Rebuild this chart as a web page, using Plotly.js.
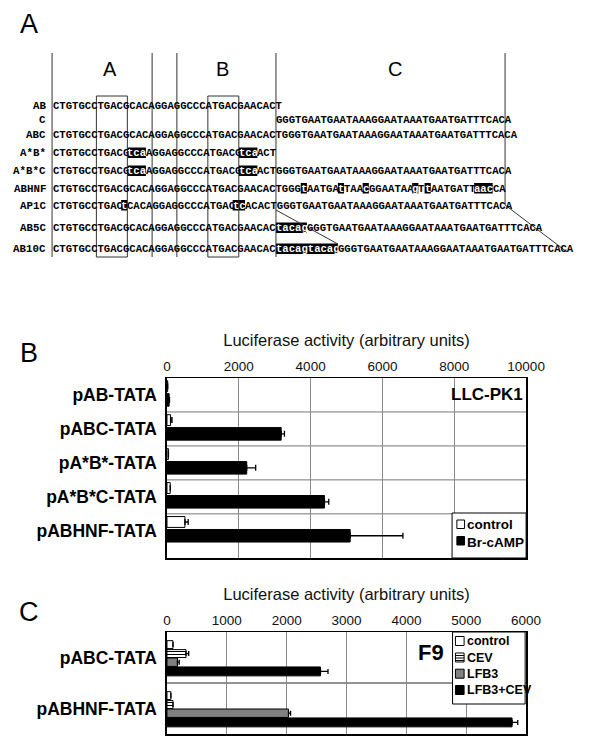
<!DOCTYPE html>
<html>
<head>
<meta charset="utf-8">
<script src="https://cdn.plot.ly/plotly-3.0.1.min.js"></script>
<style>
  html, body { margin: 0; padding: 0; background: #fff; }
  #chart { width: 598px; height: 746px; }
</style>
</head>
<body>
<div id="chart"></div>
<script>
// --- Panel A: sequences ([...] = mutated / inserted bases, shown white on black) ---
const seqNames = ["AB", "C", "ABC", "A*B*", "A*B*C", "ABHNF", "AP1C", "AB5C", "AB10C"];
const seqOffsets = [0, 36, 0, 0, 0, 0, 0, 0, 0];
const seqRows = [
  "CTGTGCCTGACGCACAGGAGGCCCATGACGAACACT",
  "GGGTGAATGAATAAAGGAATAAATGAATGATTTCACA",
  "CTGTGCCTGACGCACAGGAGGCCCATGACGAACACTGGGTGAATGAATAAAGGAATAAATGAATGATTTCACA",
  "CTGTGCCTGACG[tca]AGGAGGCCCATGACG[tca]ACT",
  "CTGTGCCTGACG[tca]AGGAGGCCCATGACG[tca]ACTGGGTGAATGAATAAAGGAATAAATGAATGATTTCACA",
  "CTGTGCCTGACGCACAGGAGGCCCATGACGAACACTGGGT[t]AATGA[t]TAA[c]GGAATAA[g]T[t]AATGATT[aac]CA",
  "CTGTGCCTGAC[t]CACAGGAGGCCCATGAC[tc]ACACTGGGTGAATGAATAAAGGAATAAATGAATGATTTCACA",
  "CTGTGCCTGACGCACAGGAGGCCCATGACGAACACT[tacag]GGGTGAATGAATAAAGGAATAAATGAATGATTTCACA",
  "CTGTGCCTGACGCACAGGAGGCCCATGACGAACACT[tacagtacag]GGGTGAATGAATAAAGGAATAAATGAATGATTTCACA",
];
const regionNames = ["A", "B", "C"];

// --- Panel B: LLC-PK1 ---
const bConstructs = ["pAB-TATA", "pABC-TATA", "pA*B*-TATA", "pA*B*C-TATA", "pABHNF-TATA"];
const bControl = [20, 100, 40, 90, 500];
const bControlErr = [0, 40, 0, 0, 90];
const bBrcamp = [60, 3180, 2220, 4385, 5100];
const bBrcampErr = [10, 90, 250, 120, 1470];
const bTicks = [0, 2000, 4000, 6000, 8000, 10000];

// --- Panel C: F9 ---
const cConstructs = ["pABC-TATA", "pABHNF-TATA"];
const cControl = [100, 65];
const cControlErr = [0, 0];
const cCev = [318, 100];
const cCevErr = [45, 0];
const cLfb3 = [175, 2030];
const cLfb3Err = [30, 35];
const cLfb3Cev = [2565, 5765];
const cLfb3CevErr = [125, 95];
const cTicks = [0, 1000, 2000, 3000, 4000, 5000, 6000];

const axisTitle = "Luciferase activity (arbitrary units)";

// --- layout helpers (pixel -> paper) ---
const W = 598, H = 746;
const px = (x) => x / W;
const py = (y) => 1 - y / H;
const SANS = "Liberation Sans, Arial, sans-serif";
const MONO = "Liberation Mono, Courier New, monospace";

const annotations = [];
const shapes = [];

function text(x, y, str, opts = {}) {
  annotations.push({
    xref: "paper", yref: "paper", x: px(x), y: py(y), text: str,
    showarrow: false, xanchor: opts.xanchor || "center", yanchor: "middle",
    borderpad: 0, borderwidth: 0,
    font: { family: opts.family || SANS, size: opts.size || 12, color: opts.color || "#000" },
  });
}

function line(x0, y0, x1, y1, color = "#333", width = 1) {
  shapes.push({ type: "line", xref: "paper", yref: "paper", layer: "above",
    x0: px(x0), y0: py(y0), x1: px(x1), y1: py(y1), line: { color, width } });
}

function rect(x0, y0, x1, y1, fill, lineColor = "#000", width = 1) {
  shapes.push({ type: "rect", xref: "paper", yref: "paper", layer: "above",
    x0: px(x0), y0: py(y0), x1: px(x1), y1: py(y1), fillcolor: fill,
    line: { color: lineColor, width } });
}

// --- Panel A drawing ---
const CW = 6.44;       // monospace char width
const SEQ_X = 51;      // left edge of first base
const rowY = [106, 119.5, 135, 153, 171, 188.5, 205.5, 228, 249];
const charX = (i) => SEQ_X + i * CW;

function parseSeq(s) {
  const segs = [];
  let pos = 0;
  s.split(/(\[[a-z]+\])/).forEach((part) => {
    if (!part) return;
    const hl = part[0] === "[";
    const txt = hl ? part.slice(1, -1) : part;
    segs.push({ txt, hl, start: pos });
    pos += txt.length;
  });
  return segs;
}

seqRows.forEach((row, r) => {
  const y = rowY[r];
  text(44, y, `<b>${seqNames[r]}</b>`, { family: MONO, size: 10.8, xanchor: "right" });
  parseSeq(row).forEach((seg) => {
    const x0 = charX(seqOffsets[r] + seg.start);
    if (seg.hl) rect(x0, y - 5.5, x0 + seg.txt.length * CW, y + 5, "#000", "#000", 0);
    text(x0 + 0.1, y, `<b>${seg.txt}</b>`, {
      family: MONO, size: 10.6, xanchor: "left", color: seg.hl ? "#fff" : "#000",
    });
  });
});

// region dividers, boxes around TGACG sites, insert guides
[SEQ_X - 1, charX(16), charX(20), charX(36)].forEach((x) => line(x, 53, x, 257));
line(charX(73), 53, charX(73), 205);
line(charX(36), 210, charX(46), 244);
line(charX(73), 205, charX(83), 252);
rect(charX(7), 96, charX(12), 257, "rgba(0,0,0,0)", "#333", 1);
rect(charX(25), 96, charX(30), 257, "rgba(0,0,0,0)", "#333", 1);
[110, 227, 407].forEach((x, i) => text(x, 69, regionNames[i], { size: 20 }));

// panel letters
text(26, 24, "A", { size: 27 });
text(26, 353, "B", { size: 27 });
text(26.5, 612, "C", { size: 27 });

// --- bar traces ---
const nanIfZero = (arr) => arr.map((v) => (v === 0 ? NaN : v));

function barTrace(name, cats, vals, errs, ax, style) {
  return {
    type: "bar", orientation: "h", name, y: cats, x: vals,
    xaxis: ax[0], yaxis: ax[1],
    width: style.width, offset: style.offset,
    marker: {
      color: style.color,
      line: { color: "#000", width: 1 },
      pattern: style.pattern || { shape: "" },
    },
    error_x: {
      type: "data", symmetric: false, array: nanIfZero(errs),
      arrayminus: errs.map(() => 0), color: "#000", thickness: 1.3, width: style.cap,
    },
    showlegend: false,
    hoverinfo: "x+name",
  };
}

const data = [
  barTrace("control", bConstructs, bControl, bControlErr, ["x", "y"],
    { color: "#fff", width: 0.32, offset: -0.42, cap: 3 }),
  barTrace("Br-cAMP", bConstructs, bBrcamp, bBrcampErr, ["x", "y"],
    { color: "#000", width: 0.37, offset: -0.04, cap: 3 }),
  barTrace("control", cConstructs, cControl, cControlErr, ["x2", "y2"],
    { color: "#fff", width: 0.155, offset: -0.33, cap: 2.5 }),
  barTrace("CEV", cConstructs, cCev, cCevErr, ["x2", "y2"],
    { color: "#fff", width: 0.155, offset: -0.155, cap: 2.5,
      pattern: { shape: "-", fgcolor: "#000", bgcolor: "#fff", size: 3, solidity: 0.35 } }),
  barTrace("LFB3", cConstructs, cLfb3, cLfb3Err, ["x2", "y2"],
    { color: "#808080", width: 0.165, offset: 0.01, cap: 2.5 }),
  barTrace("LFB3+CEV", cConstructs, cLfb3Cev, cLfb3CevErr, ["x2", "y2"],
    { color: "#000", width: 0.175, offset: 0.185, cap: 2.5 }),
];

// category separators (drawn through the category axes)
function separators(cats, xr, yr, color) {
  for (let i = 0; i < cats.length - 1; i++) {
    shapes.push({ type: "line", xref: xr + " domain", yref: yr, x0: 0, x1: 1,
      y0: i + 0.5, y1: i + 0.5, layer: "below", line: { color, width: 1 } });
  }
}
separators(bConstructs, "x", "y", "#777");
separators(cConstructs, "x2", "y2", "#222");

// labels and legends
text(540, 394, "<b>LLC-PK1</b>", { size: 17, xanchor: "right" });
text(444, 652, "<b>F9</b>", { size: 22 });

rect(466, 513, 543, 558, "#fff");
rect(471, 520, 479, 528.5, "#fff");
rect(471, 536.5, 479, 545, "#000");
text(481, 524.3, "<b>control</b>", { size: 13.5, xanchor: "left" });
text(481, 542.5, "<b>Br-cAMP</b>", { size: 13.5, xanchor: "left" });

rect(466.5, 632, 542, 704, "#fff");
const cLegend = ["control", "CEV", "LFB3", "LFB3+CEV"];
const cLegendY = [641, 657.5, 673.7, 690];
cLegendY.forEach((y, i) => {
  const fill = ["#fff", "#fff", "#808080", "#000"][i];
  rect(469.5, y - 4.5, 478.5, y + 4.5, fill);
  if (i === 1) [-2, 0.5, 3].forEach((d) => line(469.5, y + d, 478.5, y + d, "#000", 1));
  text(481, y, `<b>${cLegend[i]}</b>`, { size: 12.5, xanchor: "left" });
});

// --- axes ---
function valueAxis(range, ticks, anchor) {
  return {
    domain: [px(169.5), px(543)], range, anchor, side: "top",
    tickvals: ticks, ticktext: ticks.map(String), ticks: "",
    showgrid: true, gridcolor: "#8a8a8a", gridwidth: 1,
    showline: true, mirror: true, linecolor: "#000", linewidth: 1.5, zeroline: false,
    tickfont: { family: SANS, size: 13.5, color: "#111" },
    title: { text: axisTitle, font: { family: SANS, size: 16.5, color: "#111" }, standoff: 8 },
    automargin: true, fixedrange: true,
  };
}

function categoryAxis(domain, cats, range, anchor) {
  return {
    domain, type: "category", categoryorder: "array", categoryarray: cats,
    range, anchor, ticks: "", showgrid: false, ticklabelstandoff: 5,
    showline: true, mirror: true, linecolor: "#000", linewidth: 1.5, zeroline: false,
    tickfont: { family: SANS, size: 17.5, color: "#000", weight: "bold" },
    automargin: true, fixedrange: true,
  };
}

const layout = {
  width: W, height: H,
  margin: { l: 0, r: 0, t: 0, b: 0 },
  paper_bgcolor: "#fff", plot_bgcolor: "#fff",
  barmode: "overlay",
  showlegend: false,
  xaxis: valueAxis([0, 10000], bTicks, "y"),
  yaxis: categoryAxis([py(558), py(378)], bConstructs, [4.8, -0.5], "x"),
  xaxis2: valueAxis([0, 6000], cTicks, "y2"),
  yaxis2: categoryAxis([py(734), py(632)], cConstructs, [1.5, -0.5], "x2"),
  shapes,
  annotations,
};

Plotly.newPlot("chart", data, layout, { displayModeBar: false, staticPlot: true });
</script>
</body>
</html>
